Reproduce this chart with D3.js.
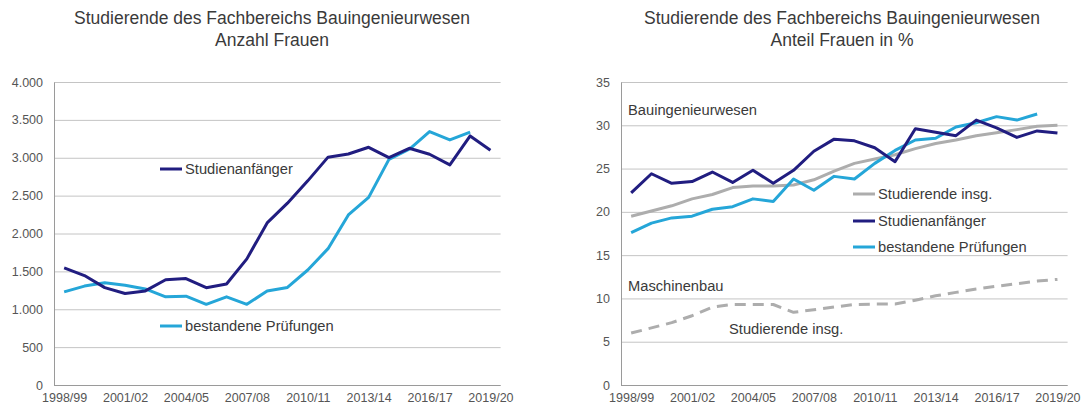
<!DOCTYPE html>
<html>
<head>
<meta charset="UTF-8">
<script src="https://d3js.org/d3.v7.min.js"></script>
<style>
  body { margin: 0; background: #fff; }
  text { font-family: "Liberation Sans", Arial, sans-serif; }
</style>
</head>
<body>
<svg id="canvas"></svg>
<script>
width = 1081;
height = 406;

categories = ["1998/99","1999/00","2000/01","2001/02","2002/03","2003/04","2004/05","2005/06",
              "2006/07","2007/08","2008/09","2009/10","2010/11","2011/12","2012/13","2013/14",
              "2014/15","2015/16","2016/17","2017/18","2018/19","2019/20"];
tickLabels = ["1998/99","2001/02","2004/05","2007/08","2010/11","2013/14","2016/17","2019/20"];

// Anzahl Frauen
anzahlAnfaenger = [1545, 1445, 1285, 1208, 1242, 1390, 1405, 1285, 1333, 1665, 2140, 2400,
                   2695, 3008, 3050, 3138, 3002, 3125, 3046, 2905, 3288, 3100];
anzahlPruefungen = [1230, 1306, 1349, 1318, 1268, 1164, 1172, 1065, 1164, 1065, 1241, 1288,
                    1518, 1800, 2245, 2477, 2978, 3112, 3345, 3235, 3337, null];
anzahlTicks = [0, 500, 1000, 1500, 2000, 2500, 3000, 3500, 4000];

// Anteil Frauen in %
anteilInsg = [19.5, 20.1, 20.7, 21.5, 22.0, 22.8, 23.0, 23.0, 23.1, 23.7, 24.7, 25.6,
              26.1, 26.6, 27.3, 27.9, 28.3, 28.8, 29.15, 29.5, 29.9, 30.0];
anteilAnfaenger = [22.2, 24.4, 23.3, 23.5, 24.6, 23.4, 24.8, 23.3, 24.8, 27.0, 28.4, 28.2,
                   27.4, 25.8, 29.6, 29.2, 28.8, 30.6, 29.7, 28.6, 29.35, 29.1];
anteilPruefungen = [17.6, 18.7, 19.3, 19.5, 20.3, 20.6, 21.5, 21.2, 23.8, 22.5, 24.1, 23.8,
                    25.6, 27.1, 28.3, 28.5, 29.8, 30.3, 31.0, 30.6, 31.3, null];
anteilMaschinenbau = [6.0, 6.6, 7.2, 8.0, 9.0, 9.3, 9.3, 9.3, 8.4, 8.7, 9.0, 9.3,
                      9.35, 9.35, 9.8, 10.3, 10.7, 11.1, 11.4, 11.7, 12.0, 12.2];
anteilTicks = [0, 5, 10, 15, 20, 25, 30, 35];

navy = "#211d80";
blue = "#25a6d8";
grey = "#adadad";
textCol = "#3a3a3a";
tickCol = "#555555";

canvas = d3.select("#canvas")
    .attr("width", width)
    .attr("height", height);

function drawPanel(opt) {
    x = d3.scalePoint()
        .domain(categories)
        .range([opt.left, opt.right])
        .padding(0.5);

    y = d3.scaleLinear()
        .domain([0, opt.max])
        .range([385, 82]);

    g = canvas.append("g");

    // title
    g.append("text")
        .attr("x", opt.titleX).attr("y", 24)
        .attr("text-anchor", "middle")
        .style("font-size", "17.5px").style("fill", textCol)
        .text("Studierende des Fachbereichs Bauingenieurwesen");
    g.append("text")
        .attr("x", opt.titleX).attr("y", 46)
        .attr("text-anchor", "middle")
        .style("font-size", "17.5px").style("fill", textCol)
        .text(opt.subtitle);

    // gridlines
    g.append("g")
        .attr("transform", "translate(" + opt.left + ",0)")
        .call(d3.axisLeft(y).tickValues(opt.ticks).tickSize(-(opt.right - opt.left)).tickFormat(""))
        .call(a => a.select(".domain").remove())
        .call(a => a.selectAll("line").attr("stroke", "#c4c4c4"));

    // y axis
    g.append("g")
        .attr("transform", "translate(" + opt.left + ",0)")
        .call(d3.axisLeft(y).tickValues(opt.ticks).tickSize(0).tickSizeOuter(0).tickPadding(11)
              .tickFormat(opt.format))
        .call(a => a.select(".domain").attr("stroke", "#9a9a9a"))
        .call(a => a.selectAll("text").style("font-size", "12.5px").style("fill", tickCol)
              .style("font-family", "Liberation Sans, Arial, sans-serif"));

    // x axis
    g.append("g")
        .attr("transform", "translate(0,385)")
        .call(d3.axisBottom(x).tickValues(tickLabels).tickSize(0).tickSizeOuter(0).tickPadding(8))
        .call(a => a.select(".domain").attr("stroke", "#9a9a9a")
              .attr("d", "M" + opt.left + ",0.5H" + opt.right))
        .call(a => a.selectAll("text").style("font-size", "12.5px").style("fill", tickCol)
              .style("font-family", "Liberation Sans, Arial, sans-serif"));

    line = d3.line()
        .defined(d => d != null)
        .x((d, i) => x(categories[i]))
        .y(d => y(d));

    opt.series.forEach(s => {
        g.append("path")
            .datum(s.values)
            .attr("fill", "none")
            .attr("stroke", s.color)
            .attr("stroke-width", 3)
            .attr("stroke-linejoin", "round")
            .attr("stroke-dasharray", s.dash || null)
            .attr("d", line);
    });

    // legend / labels
    opt.legend.forEach(l => {
        if (l.color) {
            g.append("line")
                .attr("x1", l.x).attr("x2", l.x + 22)
                .attr("y1", l.y).attr("y2", l.y)
                .attr("stroke", l.color).attr("stroke-width", 3);
        }
        g.append("text")
            .attr("x", l.color ? l.x + 25 : l.x)
            .attr("y", l.y + 5)
            .style("font-size", "14.7px").style("fill", textCol)
            .text(l.label);
    });
}

drawPanel({
    left: 54, right: 500.6, max: 4000, titleX: 272,
    subtitle: "Anzahl Frauen",
    ticks: anzahlTicks,
    format: d3.format(",.0f"),
    series: [
        {values: anzahlPruefungen, color: blue},
        {values: anzahlAnfaenger, color: navy}
    ],
    legend: [
        {label: "Studienanfänger", color: navy, x: 160, y: 169},
        {label: "bestandene Prüfungen", color: blue, x: 160, y: 326}
    ]
});

drawPanel({
    left: 621, right: 1067.6, max: 35, titleX: 842,
    subtitle: "Anteil Frauen in %",
    ticks: anteilTicks,
    format: d3.format("d"),
    series: [
        {values: anteilMaschinenbau, color: grey, dash: "11,7"},
        {values: anteilInsg, color: grey},
        {values: anteilPruefungen, color: blue},
        {values: anteilAnfaenger, color: navy}
    ],
    legend: [
        {label: "Bauingenieurwesen", x: 628, y: 110},
        {label: "Studierende insg.", color: grey, x: 853, y: 194},
        {label: "Studienanfänger", color: navy, x: 853, y: 221},
        {label: "bestandene Prüfungen", color: blue, x: 853, y: 247},
        {label: "Maschinenbau", x: 628, y: 286},
        {label: "Studierende insg.", x: 729, y: 329}
    ]
});

// German number format: thousands separator "."
canvas.selectAll(".tick text").each(function () {
    t = d3.select(this).text();
    d3.select(this).text(t.replace(/,/g, "."));
});
</script>
</body>
</html>
